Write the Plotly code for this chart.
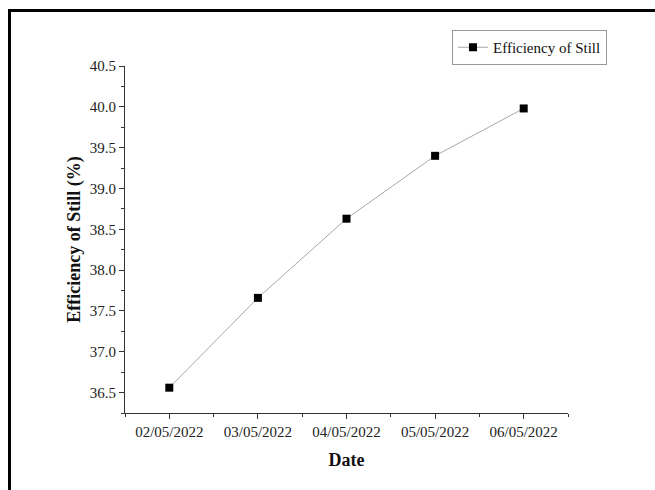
import plotly.graph_objects as go

# Daily efficiency of the solar still
dates = ["02/05/2022", "03/05/2022", "04/05/2022", "05/05/2022", "06/05/2022"]
efficiency = [36.56, 37.66, 38.63, 39.40, 39.98]

W, H = 655, 490
ML, MR, MT, MB = 125, 87, 66, 77
PW, PH = W - ML - MR, H - MT - MB

def px_to_paper_x(px):
    return (px - ML) / PW

def px_to_paper_y(py):
    return (H - MB - py) / PH

FONT = "Liberation Serif, Times New Roman, serif"

fig = go.Figure()
fig.add_trace(go.Scatter(
    x=list(range(len(dates))),
    y=efficiency,
    mode="lines+markers",
    name="Efficiency of Still",
    line=dict(color="#a8a8a8", width=1),
    marker=dict(symbol="square", size=8, color="black"),
))

axis_common = dict(
    showline=True,
    linecolor="#333333",
    linewidth=1,
    ticks="outside",
    ticklen=5,
    tickwidth=1,
    tickcolor="#333333",
    showgrid=False,
    zeroline=False,
    tickfont=dict(family=FONT, size=15, color="#222222"),
    title_font=dict(family=FONT, size=18, color="#111111"),
)

fig.update_xaxes(
    **axis_common,
    range=[-0.5, 4.5],
    tickmode="array",
    tickvals=list(range(len(dates))),
    ticktext=dates,
    minor=dict(ticks="outside", ticklen=3, tickcolor="#333333", tick0=0.5, dtick=1, showgrid=False),
    title_text="<b>Date</b>",
    title_standoff=14,
)

fig.update_yaxes(
    **axis_common,
    range=[36.25, 40.5],
    tick0=0,
    dtick=0.5,
    tickformat=".1f",
    minor=dict(ticks="outside", ticklen=3, tickcolor="#333333", tick0=0, dtick=0.25, showgrid=False),
    title_text="<b>Efficiency of Still (%)</b>",
    title_standoff=4,
)

# Outer frame around the figure
fig.add_shape(
    type="rect", xref="paper", yref="paper",
    x0=px_to_paper_x(9.5), x1=px_to_paper_x(W + 10),
    y0=px_to_paper_y(H + 10), y1=px_to_paper_y(10.5),
    line=dict(color="black", width=3),
    fillcolor="rgba(0,0,0,0)",
    layer="above",
)

fig.update_layout(
    width=W, height=H,
    margin=dict(l=ML, r=MR, t=MT, b=MB),
    paper_bgcolor="white",
    plot_bgcolor="white",
    showlegend=True,
    legend=dict(
        x=px_to_paper_x(452), y=px_to_paper_y(30),
        xanchor="left", yanchor="top",
        bgcolor="white",
        bordercolor="#999999",
        borderwidth=1,
        font=dict(family=FONT, size=15, color="#111111"),
        itemwidth=30,
    ),
)

fig.write_html("out.html")
